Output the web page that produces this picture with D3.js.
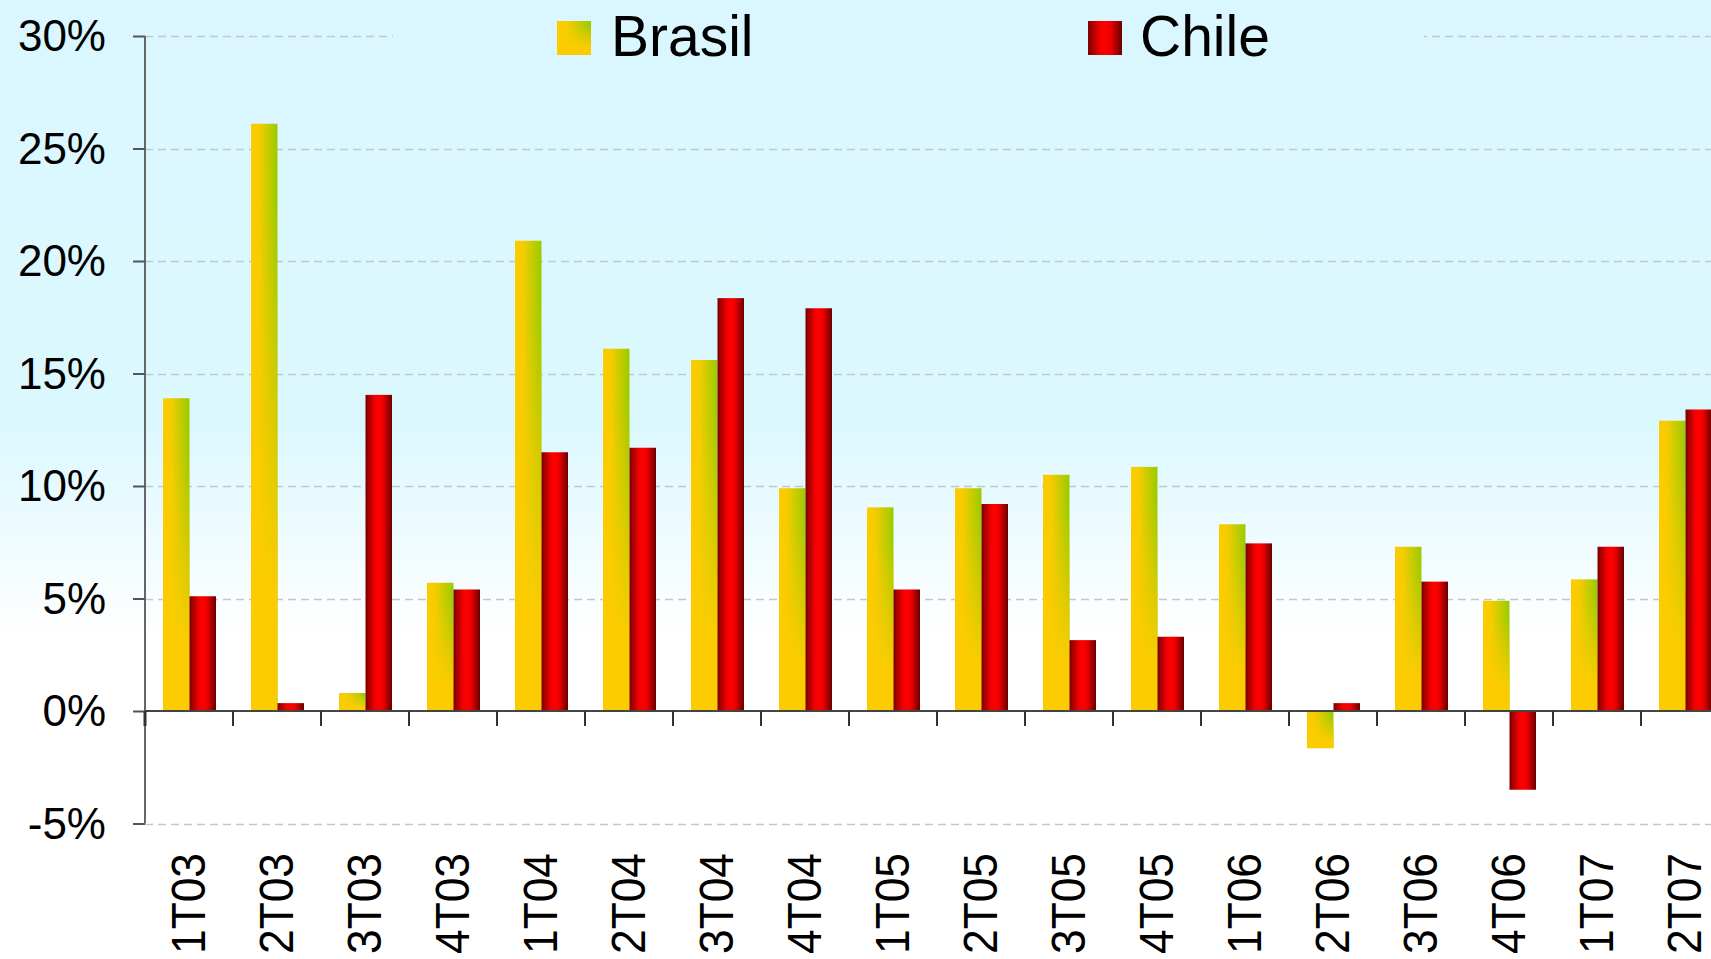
<!DOCTYPE html>
<html>
<head>
<meta charset="utf-8">
<script src="https://cdn.jsdelivr.net/npm/d3@7"></script>
<style>
  html, body { margin: 0; padding: 0; background: #ffffff; overflow: hidden; }
  svg { display: block; font-family: "Liberation Sans", Arial, sans-serif; }
</style>
</head>
<body>
<svg id="chart" width="1711" height="959"></svg>
<script>
// ---- data ----
const categories = ["1T03","2T03","3T03","4T03","1T04","2T04","3T04","4T04","1T05","2T05","3T05","4T05","1T06","2T06","3T06","4T06","1T07","2T07"];
const seriesNames = ["Brasil", "Chile"];
const brasil = [13.9, 26.1, 0.8, 5.7, 20.9, 16.1, 15.6, 9.9, 9.05, 9.9, 10.5, 10.85, 8.3, -1.65, 7.3, 4.9, 5.85, 12.9];
const chile  = [5.1, 0.35, 14.05, 5.4, 11.5, 11.7, 18.35, 17.9, 5.4, 9.2, 3.15, 3.3, 7.45, 0.35, 5.75, -3.5, 7.3, 13.4];
const yTicks = [-5, 0, 5, 10, 15, 20, 25, 30];

const W = 1711, H = 959;
const svg = d3.select("#chart");
const defs = svg.append("defs");

// background gradient (cyan -> white)
const bg = defs.append("linearGradient").attr("id", "bgGrad")
  .attr("gradientUnits", "userSpaceOnUse").attr("x1", 0).attr("y1", 0).attr("x2", 0).attr("y2", H);
bg.append("stop").attr("offset", 0).attr("stop-color", "#daf7ff");
bg.append("stop").attr("offset", 430 / H).attr("stop-color", "#dcf8ff");
bg.append("stop").attr("offset", 635 / H).attr("stop-color", "#ffffff");
bg.append("stop").attr("offset", 1).attr("stop-color", "#ffffff");
svg.append("rect").attr("width", W).attr("height", H).attr("fill", "url(#bgGrad)");

// Brasil gradients
const gB = defs.append("linearGradient").attr("id", "brH").attr("x1", 0).attr("y1", 0).attr("x2", 1).attr("y2", 0);
gB.append("stop").attr("offset", 0).attr("stop-color", "#fccc00");
gB.append("stop").attr("offset", 0.3).attr("stop-color", "#f6cc00");
gB.append("stop").attr("offset", 1).attr("stop-color", "#96cc00");
const gBv = defs.append("linearGradient").attr("id", "brV").attr("x1", 0).attr("y1", 0).attr("x2", 0).attr("y2", 1);
gBv.append("stop").attr("offset", 0).attr("stop-color", "#fccc00").attr("stop-opacity", 0);
gBv.append("stop").attr("offset", 0.15).attr("stop-color", "#fccc00").attr("stop-opacity", 0.05);
gBv.append("stop").attr("offset", 0.8).attr("stop-color", "#fccc00").attr("stop-opacity", 1);
gBv.append("stop").attr("offset", 1).attr("stop-color", "#fccc00").attr("stop-opacity", 1);

// Chile gradient
const gC = defs.append("linearGradient").attr("id", "clH").attr("x1", 0).attr("y1", 0).attr("x2", 1).attr("y2", 0);
gC.append("stop").attr("offset", 0).attr("stop-color", "#7a0000");
gC.append("stop").attr("offset", 0.35).attr("stop-color", "#f00000");
gC.append("stop").attr("offset", 0.5).attr("stop-color", "#ff0000");
gC.append("stop").attr("offset", 0.68).attr("stop-color", "#e80000");
gC.append("stop").attr("offset", 1).attr("stop-color", "#660000");

// ---- scales ----
const x0 = 145, bandW = 88;
const x = d3.scaleBand().domain(categories).range([x0, x0 + bandW * categories.length]).paddingInner(0).paddingOuter(0);
const xs = d3.scaleBand().domain(seriesNames).range([18, 71]).padding(0);
const y = d3.scaleLinear().domain([-5, 30]).range([823.5, 36]);

// gridlines
svg.append("g").selectAll("line").data(yTicks.filter(d => d !== 0)).join("line")
  .attr("x1", x0).attr("x2", W)
  .attr("y1", d => Math.round(y(d)) + 0.5).attr("y2", d => Math.round(y(d)) + 0.5)
  .attr("stroke", "#c6c6c6").attr("stroke-width", 1.3).attr("stroke-dasharray", "8,5");

// legend (covers the top gridline)
const leg = svg.append("g");
leg.append("rect").attr("x", 393).attr("y", 0).attr("width", 1031).attr("height", 70).attr("fill", "#daf7ff");
const legItems = [{name: "Brasil", sx: 557, tx: 611}, {name: "Chile", sx: 1088, tx: 1140}];
legItems.forEach((it, i) => {
  if (i === 0) {
    leg.append("rect").attr("x", it.sx).attr("y", 21).attr("width", 34).attr("height", 34).attr("fill", "url(#brH)");
    leg.append("rect").attr("x", it.sx).attr("y", 21).attr("width", 34).attr("height", 34).attr("fill", "url(#brV)");
  } else {
    leg.append("rect").attr("x", it.sx).attr("y", 21).attr("width", 34).attr("height", 34).attr("fill", "url(#clH)");
  }
  leg.append("text").attr("x", it.tx).attr("y", 56).attr("font-size", 57).attr("fill", "#000").text(it.name);
});

// bars
const rows = categories.map((c, i) => ({cat: c, Brasil: brasil[i], Chile: chile[i]}));
const gBars = svg.append("g");
function barY(v) { return Math.min(y(v), y(0)); }
function barH(v) { return Math.abs(y(v) - y(0)); }
// Brasil
gBars.selectAll("rect.br").data(rows).join("rect").attr("class", "br")
  .attr("x", d => x(d.cat) + xs("Brasil")).attr("width", xs.bandwidth())
  .attr("y", d => barY(d.Brasil)).attr("height", d => barH(d.Brasil))
  .attr("fill", "url(#brH)");
gBars.selectAll("rect.brv").data(rows).join("rect").attr("class", "brv")
  .attr("x", d => x(d.cat) + xs("Brasil")).attr("width", xs.bandwidth())
  .attr("y", d => barY(d.Brasil)).attr("height", d => barH(d.Brasil))
  .attr("fill", "url(#brV)");
// Chile
gBars.selectAll("rect.cl").data(rows).join("rect").attr("class", "cl")
  .attr("x", d => x(d.cat) + xs("Chile")).attr("width", xs.bandwidth())
  .attr("y", d => barY(d.Chile)).attr("height", d => barH(d.Chile))
  .attr("fill", "url(#clH)");

// y axis
const yAxis = d3.axisLeft(y).tickValues(yTicks).tickSize(12).tickFormat(d => d + "%");
const gy = svg.append("g").attr("transform", `translate(${x0},0)`).call(yAxis);
gy.select(".domain").attr("stroke", "#666").attr("stroke-width", 2).attr("d", `M0,${y(30)}V${y(-5)}`);
gy.selectAll(".tick line").attr("stroke", "#555").attr("stroke-width", 2);
gy.selectAll(".tick text").attr("font-size", 44).attr("fill", "#000")
  .attr("font-family", "'Liberation Sans', Arial, sans-serif").attr("x", -39).attr("dy", "0.34em");

// x axis at zero
const xAxis = d3.axisBottom(x).tickSize(0).tickFormat(d => d);
const gx = svg.append("g").attr("transform", `translate(0,${y(0)})`).call(xAxis);
gx.select(".domain").attr("stroke", "#444").attr("stroke-width", 2).attr("d", `M${x0},0H${W}`);
gx.selectAll(".tick text")
  .attr("font-size", 49).attr("fill", "#000").attr("font-family", "'Liberation Sans', Arial, sans-serif")
  .attr("text-anchor", "end").attr("transform", `translate(-2,${853 - y(0)}) rotate(-90)`)
  .attr("textLength", 101).attr("lengthAdjust", "spacingAndGlyphs")
  .attr("x", 0).attr("y", 0).attr("dy", "0.36em");
// category separator ticks
svg.append("g").selectAll("line").data(d3.range(categories.length)).join("line")
  .attr("x1", i => x(categories[i])).attr("x2", i => x(categories[i]))
  .attr("y1", y(0)).attr("y2", y(0) + 15)
  .attr("stroke", "#333").attr("stroke-width", i => i === 0 ? 3 : 2);
</script>
</body>
</html>
